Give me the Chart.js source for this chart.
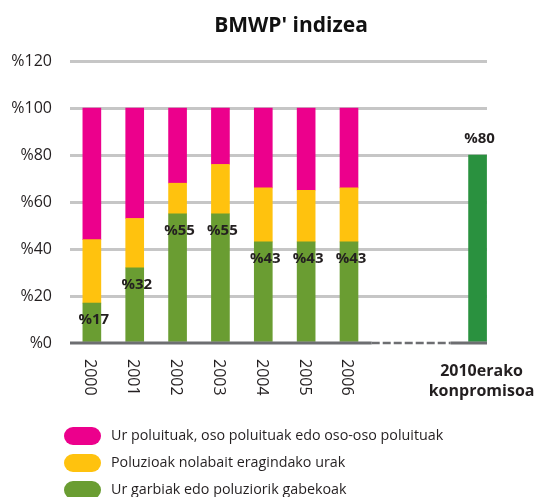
<!DOCTYPE html>
<html><head><meta charset="utf-8">
<script src="https://cdn.jsdelivr.net/npm/chart.js@4.4.1/dist/chart.umd.min.js"></script>
<style>html,body{margin:0;padding:0;background:#fff}#wrap{width:538px;height:497px;position:relative}canvas{display:block}</style>
</head><body><div id="wrap"><canvas id="c" width="538" height="497"></canvas></div>
<script>
// ---- data ----
const categories = ['2000','2001','2002','2003','2004','2005','2006','','',['2010erako','konpromisoa']];
const cleanWater = [17,32,55,55,43,43,43,null,null,80];
const someImpact = [27,21,13,21,23,22,23,null,null,null];
const polluted   = [56,47,32,24,34,35,34,null,null,null];
const yTicks = [0,20,40,60,80,100,120];
const seriesNames = ['Ur garbiak edo poluziorik gabekoak','Poluzioak nolabait eragindako urak','Ur poluituak, oso poluituak edo oso-oso poluituak'];
const chartTitle = "BMWP' indizea";

// ---- style ----
const FONT = "'Open Sans', 'Noto Sans', sans-serif";
const GREEN = '#6a9d32', GREEN2010 = '#2a913f', YELLOW = '#ffc20e', PINK = '#ec008c';
const TEXT = '#231f20';

const toXY = arr => arr.map((v,i)=>({x:i, y:v}));

const decor = {
  id:'decor',
  afterDatasetsDraw(chart){
    const {ctx, chartArea:a, scales:{x, y}} = chart;
    const y0 = y.getPixelForValue(0);
    ctx.save();
    // baseline: solid, dashed gap, solid
    const xs = x.getPixelForValue(6.53), xe = x.getPixelForValue(8.37);
    ctx.strokeStyle = '#6d6e71'; ctx.lineWidth = 3;
    ctx.beginPath(); ctx.moveTo(a.left, y0); ctx.lineTo(xs, y0); ctx.stroke();
    ctx.beginPath(); ctx.moveTo(xe, y0); ctx.lineTo(a.right, y0); ctx.stroke();
    ctx.setLineDash([8,3]); ctx.lineWidth = 2.5;
    ctx.beginPath(); ctx.moveTo(xs, y0); ctx.lineTo(xe, y0); ctx.stroke();
    ctx.setLineDash([]);

    // value labels on the green bars
    const meta = chart.getDatasetMeta(0);
    ctx.fillStyle = TEXT;
    ctx.font = 'bold 15px ' + FONT;
    ctx.textAlign = 'center'; ctx.textBaseline = 'middle';
    meta.data.forEach((bar, i) => {
      if (cleanWater[i] == null) return;
      const above = someImpact[i] == null;
      ctx.fillText('%' + cleanWater[i], bar.x + 2, above ? bar.y - 16 : bar.y + 17);
    });

    // category labels
    categories.forEach((c, i) => {
      if (!c || (Array.isArray(c) && !c.length)) return;
      const px = x.getPixelForValue(i);
      if (Array.isArray(c)) {
        ctx.font = 'bold 16px ' + FONT;
        ctx.textAlign = 'center'; ctx.textBaseline = 'middle';
        c.forEach((line, k) => ctx.fillText(line, px + 4, y0 + 28 + k * 20));
      } else {
        ctx.save();
        ctx.translate(px - 2, y0 + 16);
        ctx.rotate(Math.PI / 2);
        ctx.font = '16px ' + FONT;
        ctx.textAlign = 'left'; ctx.textBaseline = 'middle';
        ctx.fillText(c, 0, 0);
        ctx.restore();
      }
    });

    // title
    ctx.font = 'bold 21px ' + FONT;
    ctx.textAlign = 'center'; ctx.textBaseline = 'alphabetic';
    ctx.fillStyle = '#111';
    ctx.fillText(chartTitle, 291, 32);

    // legend (top to bottom: reverse of stack order)
    const ds = chart.data.datasets.slice().reverse();
    ctx.font = '14.3px ' + FONT;
    ctx.textAlign = 'left'; ctx.textBaseline = 'middle';
    ds.forEach((d, k) => {
      const cy = 436 + k * 27;
      const col = Array.isArray(d.backgroundColor) ? d.backgroundColor[0] : d.backgroundColor;
      ctx.fillStyle = col;
      ctx.beginPath();
      ctx.roundRect(64, cy - 9, 37, 18, 9);
      ctx.fill();
      ctx.fillStyle = TEXT;
      ctx.fillText(d.label, 111, cy);
    });
    ctx.restore();
  }
};

new Chart(document.getElementById('c'), {
  type: 'bar',
  data: {
    datasets: [
      {label: seriesNames[0], data: toXY(cleanWater), backgroundColor: cleanWater.map((v,i)=> i===9 ? GREEN2010 : GREEN)},
      {label: seriesNames[1], data: toXY(someImpact), backgroundColor: YELLOW},
      {label: seriesNames[2], data: toXY(polluted), backgroundColor: PINK}
    ]
  },
  options: {
    responsive: false,
    animation: false,
    events: [],
    barThickness: 18,
    layout: {padding: {top: 61, left: 11, right: 51, bottom: 154}},
    plugins: {legend: {display: false}, title: {display: false}, tooltip: {enabled: false}},
    scales: {
      x: {type: 'linear', min: -0.51, max: 9.22, stacked: true, offset: false, display: false},
      y: {
        stacked: true, min: 0, max: 120,
        afterBuildTicks: axis => { axis.ticks = yTicks.map(v => ({value: v})); },
        afterFit: axis => { axis.width = 59; },
        ticks: {padding: 18, color: TEXT, font: {family: FONT, size: 16}, callback: v => '%' + v},
        grid: {color: c => (c.tick && c.tick.value === 0) ? 'rgba(0,0,0,0)' : '#c6c6c6', lineWidth: 3, drawTicks: false},
        border: {display: false}
      }
    }
  },
  plugins: [decor]
});
</script>
</body></html>
